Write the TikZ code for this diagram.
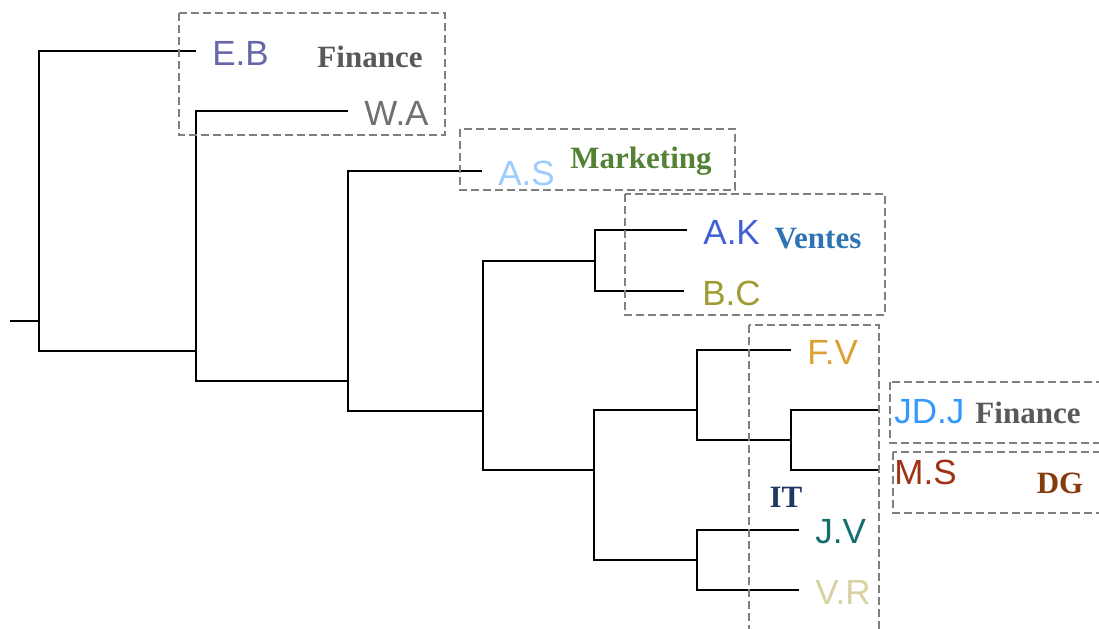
\documentclass[tikz,border=0pt]{standalone}
\usepackage{fontspec}
\setmainfont{Liberation Serif}
\setsansfont{Liberation Sans}
\usepackage{tikz}
\usetikzlibrary{positioning}
\definecolor{branch}{RGB}{0,0,0}
\definecolor{boxgrey}{RGB}{128,128,128}
\definecolor{ebcol}{RGB}{102,102,170}
\definecolor{wacol}{RGB}{112,112,112}
\definecolor{ascol}{RGB}{153,204,255}
\definecolor{akcol}{RGB}{65,95,215}
\definecolor{bccol}{RGB}{160,155,50}
\definecolor{fvcol}{RGB}{218,160,50}
\definecolor{jdjcol}{RGB}{51,153,255}
\definecolor{mscol}{RGB}{160,50,20}
\definecolor{jvcol}{RGB}{20,110,110}
\definecolor{vrcol}{RGB}{215,210,160}
\definecolor{fincol}{RGB}{89,89,89}
\definecolor{mktcol}{RGB}{84,130,53}
\definecolor{vtecol}{RGB}{46,116,181}
\definecolor{dgcol}{RGB}{132,60,12}
\definecolor{itcol}{RGB}{31,56,100}
\tikzset{
  tree/.style={draw=branch,line width=1.4pt},
  leaf/.style={anchor=west,inner sep=1pt,yshift=-1pt,font=\sffamily\fontsize{17.5}{18}\selectfont},
  grp/.style={inner sep=1pt,font=\bfseries\fontsize{15.5}{16}\selectfont},
  grpbox/.style={draw=boxgrey,line width=1pt,dash pattern=on 4pt off 2pt},
}
\begin{document}
\begin{tikzpicture}[x=0.5pt,y=-0.5pt]
  \useasboundingbox (0,0) rectangle (1099,628);

  % points de fusion
  \coordinate (stub) at (10,321);
  \coordinate (n0) at (39,321);
  \coordinate (n1) at (196,351);
  \coordinate (n2) at (348,381);
  \coordinate (n3) at (483,411);
  \coordinate (n4) at (595,261);
  \coordinate (n5) at (594,470);
  \coordinate (n6) at (697,410);
  \coordinate (n7) at (697,560);
  \coordinate (n8) at (791,440);

  % bouts des feuilles
  \coordinate (eb)  at (196,51);
  \coordinate (wa)  at (348,111);
  \coordinate (as)  at (482,171);
  \coordinate (ak)  at (687,230);
  \coordinate (bc)  at (684,291);
  \coordinate (fv)  at (791,350);
  \coordinate (jdj) at (878,410);
  \coordinate (ms)  at (878,470);
  \coordinate (jv)  at (799,530);
  \coordinate (vr)  at (799,590);

  \draw[tree] (stub) -- (n0);
  \draw[tree] (n0) |- (eb);  \draw[tree] (n0) |- (n1);
  \draw[tree] (n1) |- (wa);  \draw[tree] (n1) |- (n2);
  \draw[tree] (n2) |- (as);  \draw[tree] (n2) |- (n3);
  \draw[tree] (n3) |- (n4);  \draw[tree] (n3) |- (n5);
  \draw[tree] (n4) |- (ak);  \draw[tree] (n4) |- (bc);
  \draw[tree] (n5) |- (n6);  \draw[tree] (n5) |- (n7);
  \draw[tree] (n6) |- (fv);  \draw[tree] (n6) |- (n8);
  \draw[tree] (n8) |- (jdj); \draw[tree] (n8) |- (ms);
  \draw[tree] (n7) |- (jv);  \draw[tree] (n7) |- (vr);

  \node[leaf,text=ebcol,right=7pt of eb]   (lEB)  {E.B};
  \node[leaf,text=wacol,right=7pt of wa]   (lWA)  {W.A};
  \node[leaf,text=ascol,right=7pt of as]   (lAS)  {A.S};
  \node[leaf,text=akcol,right=7pt of ak]   (lAK)  {A.K};
  \node[leaf,text=bccol,right=8pt of bc]   (lBC)  {B.C};
  \node[leaf,text=fvcol,right=7pt of fv]   (lFV)  {F.V};
  \node[leaf,text=jdjcol,right=7pt of jdj] (lJDJ) {JD.J};
  \node[leaf,text=mscol,right=7pt of ms]   (lMS)  {M.S};
  \node[leaf,text=jvcol,right=7pt of jv]   (lJV)  {J.V};
  \node[leaf,text=vrcol,right=7pt of vr]   (lVR)  {V.R};

  % services
  \node[grp,text=fincol] (gFin)  at (370,57)   {Finance};
  \node[grp,text=mktcol] (gMkt)  at (641,161)  {Marketing};
  \node[grp,text=vtecol] (gVte)  at (818,239)  {Ventes};
  \node[grp,text=itcol]  (gIT)   at (786,497)  {IT};
  \node[grp,text=fincol] (gFin2) at (1028,413) {Finance};
  \node[grp,text=dgcol]  (gDG)   at (1060,483) {DG};

  \draw[grpbox] (179,13) rectangle (445,135);
  \draw[grpbox] (460,129) rectangle (735,190);
  \draw[grpbox] (625,194) rectangle (885,315);
  \draw[grpbox] (749,325) rectangle (879,640);
  \draw[grpbox] (890,382) rectangle (1110,443);
  \draw[grpbox] (893,452) rectangle (1110,513);
\end{tikzpicture}
\end{document}
